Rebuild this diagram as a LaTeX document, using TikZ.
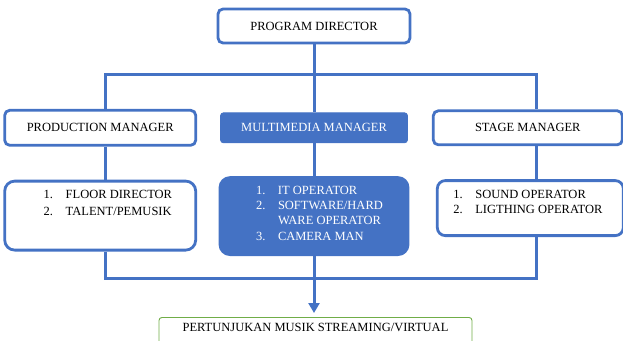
\documentclass[tikz,border=0pt]{standalone}
\usepackage{fontspec}
\setmainfont{Liberation Serif}
\usetikzlibrary{positioning}
\usetikzlibrary{arrows.meta}
\definecolor{mblue}{HTML}{4472C4}
\definecolor{mgreen}{HTML}{70AD47}
\newcommand{\rowitem}[2]{\noindent\makebox[22pt][l]{#1}#2}
\tikzset{
  every node/.style={font=\fontsize{12.5}{15}\selectfont, inner sep=0pt},
  box/.style={draw=mblue, line width=2.8pt, rounded corners=5pt, fill=white},
  mmbox/.style={draw=mblue, line width=0.8pt, rounded corners=3pt, fill=mblue, text=white},
  listbox/.style={box, rounded corners=10pt},
  finalbox/.style={draw=mgreen, line width=0.9pt, rounded corners=3pt, fill=white},
  conn/.style={draw=mblue, line width=3pt},
}

\begin{document}
\begin{tikzpicture}[x=1pt, y=-1pt]
      \clip (0,0) rectangle (623,340);
      \useasboundingbox (0,0) rectangle (623,340);

      \node[box, minimum width=192pt, minimum height=34pt] (pd) at (314,26) {PROGRAM DIRECTOR};
      \node[mmbox, minimum width=187pt, minimum height=30pt, below=68pt of pd] (mm) {MULTIMEDIA MANAGER};
      \node[box, minimum width=191pt, minimum height=35pt, left=23pt of mm] (pm) {PRODUCTION MANAGER};
      \node[box, minimum width=189pt, minimum height=34pt, right=24pt of mm] (sm) {STAGE MANAGER};

      \node[listbox, below=33pt of pm] (pmlist) {\begin{minipage}[c][69pt][t]{191pt}
        \fontsize{12.5}{16.7}\selectfont\vspace*{9pt}\leftskip=39pt
        \rowitem{1.}{FLOOR DIRECTOR}\par
        \rowitem{2.}{TALENT/PEMUSIK}
      \end{minipage}};
      \node[listbox, fill=mblue, text=white, draw=mblue, below=33pt of mm] (mmlist) {\begin{minipage}[c][77pt][t]{188pt}
        \fontsize{12.5}{15.3}\selectfont\vspace*{8.5pt}\leftskip=36pt
        \rowitem{1.}{IT OPERATOR}\par
        \rowitem{2.}{SOFTWARE/HARD}\par
        \rowitem{}{WARE OPERATOR}\par
        \rowitem{3.}{CAMERA MAN}
      \end{minipage}};
      \node[listbox, rounded corners=8pt, below=33pt of sm, xshift=2.5pt] (smlist) {\begin{minipage}[c][55pt][t]{186pt}
        \fontsize{12.5}{15}\selectfont\vspace*{9.5pt}\leftskip=16pt
        \rowitem{1.}{SOUND OPERATOR}\par
        \rowitem{2.}{LIGTHING OPERATOR}
      \end{minipage}};

      \node[finalbox, minimum width=313pt, minimum height=30pt, text depth=11pt, below=61pt of mmlist, xshift=1.5pt] (final) {PERTUNJUKAN MUSIK STREAMING/VIRTUAL};

      \coordinate (busl) at (105,74);
      \coordinate (busr) at (536,74);
      \coordinate (busb) at (314,278);

      \path[conn] (pd.south) -- (pd.south |- mm.north);
      \path[conn] (busl |- pm.north) -- (busl) -- (busr) -- (busr |- sm.north);
      \path[conn] (busl |- pm.south) -- (busl |- pmlist.north);
      \path[conn] (mm.south) -- (mm.south |- mmlist.north);
      \path[conn] (busr |- sm.south) -- (busr |- smlist.north);
      \path[conn] (busl |- pmlist.south) -- (busl |- busb) -- (busr |- busb) -- (busr |- smlist.south);
      \path[conn, -{Triangle[width=11pt, length=10pt]}, shorten >=4pt] (mmlist.south) -- (mmlist.south |- final.north);
\end{tikzpicture}
\end{document}
